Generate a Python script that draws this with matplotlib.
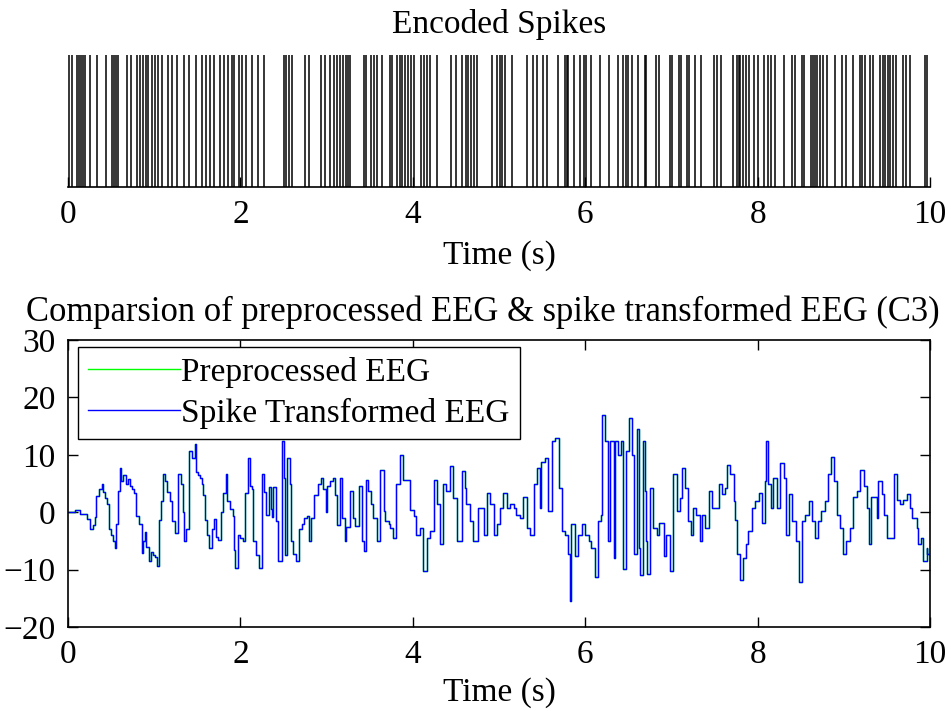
import matplotlib
matplotlib.use("Agg")
import matplotlib.pyplot as plt

plt.rcParams['font.family'] = ['Liberation Serif', 'DejaVu Serif']
plt.rcParams['font.size'] = 24

# spike times of the encoded train (s)
spike_times = [
    0.01, 0.05, 0.10, 0.13, 0.15, 0.17, 0.20, 0.26, 0.34, 0.44, 0.51, 0.53,
    0.56, 0.58, 0.69, 0.73, 0.80, 0.84, 0.87, 0.90, 0.93, 0.98, 1.01, 1.04,
    1.09, 1.16, 1.21, 1.26, 1.35, 1.40, 1.48, 1.55, 1.60, 1.65, 1.69, 1.76,
    1.81, 1.86, 1.90, 1.93, 1.98, 2.02, 2.07, 2.13, 2.20, 2.27, 2.51, 2.53,
    2.56, 2.60, 2.75, 2.79, 2.93, 2.98, 3.04, 3.09, 3.12, 3.16, 3.19, 3.23,
    3.25, 3.27, 3.43, 3.46, 3.52, 3.55, 3.58, 3.64, 3.73, 3.76, 3.82, 3.85,
    3.87, 3.91, 3.94, 3.98, 4.01, 4.09, 4.13, 4.16, 4.20, 4.28, 4.44, 4.50,
    4.57, 4.62, 4.64, 4.68, 4.71, 4.74, 4.92, 4.98, 5.01, 5.03, 5.07, 5.15,
    5.33, 5.39, 5.44, 5.51, 5.56, 5.68, 5.76, 5.79, 5.80, 5.87, 5.94, 5.99,
    6.01, 6.07, 6.17, 6.27, 6.38, 6.44, 6.47, 6.50, 6.54, 6.61, 6.69, 6.71,
    6.82, 6.85, 6.98, 7.01, 7.09, 7.11, 7.18, 7.20, 7.27, 7.34, 7.49, 7.53,
    7.58, 7.71, 7.76, 7.78, 7.80, 7.83, 7.87, 7.90, 7.96, 8.00, 8.07, 8.12,
    8.16, 8.20, 8.30, 8.40, 8.43, 8.51, 8.54, 8.62, 8.64, 8.67, 8.69, 8.72,
    8.76, 8.80, 8.90, 8.98, 9.03, 9.11, 9.19, 9.21, 9.25, 9.30, 9.34, 9.42,
    9.45, 9.48, 9.51, 9.54, 9.57, 9.61, 9.69, 9.72, 9.77, 9.94, 9.96,
]

# C3 channel, step change times (s) and amplitudes
eeg_t = [
    0.00, 0.08, 0.14, 0.22, 0.26, 0.29, 0.31, 0.33, 0.36, 0.39, 0.41, 0.43,
    0.45, 0.47, 0.50, 0.52, 0.545, 0.56, 0.58, 0.60, 0.62, 0.64, 0.67, 0.70,
    0.72, 0.74, 0.76, 0.79, 0.82, 0.855, 0.87, 0.89, 0.91, 0.94, 0.96, 0.99,
    1.01, 1.03, 1.06, 1.08, 1.10, 1.12, 1.15, 1.18, 1.21, 1.24, 1.28, 1.31,
    1.33, 1.35, 1.37, 1.40, 1.44, 1.47, 1.49, 1.51, 1.53, 1.55, 1.57, 1.59,
    1.61, 1.64, 1.67, 1.69, 1.72, 1.74, 1.77, 1.80, 1.83, 1.85, 1.88, 1.91,
    1.93, 1.94, 1.97, 2.00, 2.03, 2.05, 2.09, 2.11, 2.13, 2.15, 2.18, 2.21,
    2.25, 2.27, 2.30, 2.33, 2.35, 2.37, 2.38, 2.41, 2.44, 2.48, 2.50, 2.52,
    2.54, 2.57, 2.59, 2.61, 2.65, 2.68, 2.71, 2.74, 2.77, 2.79, 2.82, 2.85,
    2.90, 2.93, 2.96, 2.99, 3.01, 3.04, 3.07, 3.10, 3.12, 3.15, 3.18, 3.21,
    3.23, 3.27, 3.31, 3.33, 3.37, 3.41, 3.43, 3.46, 3.48, 3.52, 3.54, 3.58,
    3.62, 3.66, 3.68, 3.72, 3.74, 3.77, 3.81, 3.85, 3.89, 3.93, 3.97, 4.01,
    4.04, 4.08, 4.12, 4.17, 4.20, 4.24, 4.28, 4.32, 4.35, 4.39, 4.43, 4.47,
    4.51, 4.57, 4.61, 4.62, 4.66, 4.70, 4.76, 4.80, 4.82, 4.86, 4.90, 4.94,
    4.98, 5.01, 5.05, 5.09, 5.13, 5.17, 5.20, 5.24, 5.28, 5.32, 5.36, 5.40,
    5.44, 5.48, 5.49, 5.53, 5.57, 5.61, 5.65, 5.69, 5.73, 5.76, 5.80, 5.82,
    5.84, 5.88, 5.92, 5.96, 6.00, 6.04, 6.07, 6.11, 6.15, 6.18, 6.20, 6.23,
    6.26, 6.29, 6.33, 6.35, 6.38, 6.41, 6.44, 6.47, 6.51, 6.54, 6.56, 6.60,
    6.62, 6.64, 6.67, 6.69, 6.71, 6.72, 6.75, 6.79, 6.83, 6.85, 6.89, 6.91,
    6.94, 6.98, 7.02, 7.06, 7.10, 7.12, 7.16, 7.19, 7.23, 7.25, 7.29, 7.33,
    7.35, 7.39, 7.43, 7.47, 7.50, 7.55, 7.59, 7.62, 7.65, 7.68, 7.72, 7.74,
    7.76, 7.80, 7.83, 7.87, 7.89, 7.93, 7.97, 8.01, 8.05, 8.08, 8.10, 8.12,
    8.16, 8.18, 8.22, 8.26, 8.30, 8.33, 8.36, 8.40, 8.44, 8.48, 8.51, 8.55,
    8.59, 8.63, 8.67, 8.70, 8.74, 8.78, 8.82, 8.85, 8.88, 8.92, 8.96, 8.99,
    9.03, 9.07, 9.11, 9.15, 9.19, 9.23, 9.27, 9.29, 9.31, 9.34, 9.38, 9.40,
    9.44, 9.46, 9.50, 9.54, 9.58, 9.62, 9.65, 9.69, 9.73, 9.77, 9.79, 9.83,
    9.85, 9.86, 9.90, 9.92, 9.96, 9.97, 10.00,
]
eeg_v = [
    0.0, 0.4, -0.3, -1.2, -3.0, -2.2, -0.8, 2.8, 4.0, 4.9, 3.5, 2.5,
    1.4, -3.0, -4.0, -5.0, -6.2, -2.0, 3.7, 7.7, 5.5, 6.5, 5.0, 5.8,
    4.5, 4.0, 3.3, -0.6, -2.0, -7.1, -5.0, -3.5, -6.0, -8.5, -7.0, -7.5,
    -7.8, -9.4, -1.4, 2.0, 6.6, 5.5, 3.5, 2.0, -1.5, -3.7, 6.6, 5.0,
    0.0, -5.1, -3.0, 10.6, 9.5, 11.8, 7.0, 6.5, 6.0, 5.0, 3.0, -1.4,
    -4.0, -6.2, -3.0, -1.2, -4.3, -4.8, 0.0, 3.4, 6.6, 2.0, 0.5, -0.6,
    -6.5, -9.8, -4.0, -4.5, -5.0, 3.4, 9.5, 4.5, 4.0, -5.0, -7.5, -9.7,
    6.6, 3.5, -0.5, 4.4, 0.5, -0.8, 4.4, -1.5, -8.5, 12.4, 6.0, -7.5,
    9.5, 5.0, -5.0, -7.3, -8.5, -3.0, -2.0, -1.0, -0.6, -5.0, -1.0, 3.0,
    4.9, 6.0, 4.0, 0.0, 4.5, 5.5, 6.0, 3.0, -2.3, 6.0, -1.0, -5.0,
    -2.5, 3.7, -1.0, -2.4, 4.6, -5.0, -6.8, 5.6, 3.7, 1.4, -1.0, -5.0,
    7.4, 0.2, -1.5, -2.1, -2.7, -4.5, 4.9, 10.0, 5.6, 5.6, 0.3, -0.6,
    -3.9, -2.7, -10.3, -4.5, -3.3, 5.6, 1.5, -5.6, 4.9, 3.7, 8.0, 2.5,
    -5.0, 7.1, 4.2, 1.4, -1.5, -5.0, 0.8, 0.8, -3.9, 3.4, 1.4, -3.9,
    -2.1, 0.8, 3.4, 0.8, 1.4, 0.8, -0.4, -1.0, 2.6, -2.7, -3.9, 4.9,
    7.7, 0.8, 8.8, 9.5, 0.2, 12.4, 13.0, 4.2, -3.3, -3.9, -7.3, -15.5,
    -2.1, -7.6, -3.9, -2.1, -3.9, -5.0, -6.2, -11.2, -1.5, -0.4, 17.0, 12.4,
    -5.0, 12.4, -8.0, 12.4, 10.0, 12.4, -9.9, 10.6, 16.4, 10.0, -7.3, 14.5,
    -6.2, -10.9, 12.4, 3.7, -5.0, -10.7, 4.2, -2.7, -3.9, -1.8, -1.8, -7.6,
    -3.9, -10.3, 6.6, 0.2, 2.5, 7.7, 4.2, -1.6, -3.9, 0.8, -0.4, -5.0,
    -0.4, -2.7, 3.7, 0.8, 0.8, 4.9, 3.2, 4.2, 8.2, 6.6, 1.9, -1.3,
    -7.3, -11.8, -7.9, -5.6, -3.3, 0.8, 1.9, 3.4, -1.8, 5.4, 12.4, 4.9,
    0.8, 6.0, 0.8, 8.5, 6.0, -3.9, 3.2, -1.5, -5.0, -12.1, -1.5, -0.4,
    1.9, -1.5, -4.5, -1.5, 0.2, 1.9, 6.6, 9.7, 5.4, -0.4, -2.7, -7.3,
    -5.0, -2.7, 2.6, 3.7, 7.3, 4.5, 0.8, -5.6, 2.6, 2.6, -1.0, 5.4,
    3.2, -0.4, -4.5, -4.5, 6.6, 2.1, 1.4, 2.1, 3.2, 0.8, -1.0, -1.0,
    -2.7, -5.6, -4.5, -8.5, -6.2, -7.3, -7.3,
]

fig = plt.figure(figsize=(9.51, 7.11), dpi=100)

# --- encoded spike train ---
ax1 = fig.add_axes([0.0715, 0.737, 0.9065, 0.1857])
ax1.vlines(spike_times, 0, 1, color='black', linewidth=1.1)
ax1.set_xlim(0, 10)
ax1.set_ylim(0, 1)
ax1.set_yticks([])
for side in ['top', 'left', 'right']:
    ax1.spines[side].set_visible(False)
ax1.spines['bottom'].set_linewidth(1.2)
ax1.set_xticks([0, 2, 4, 6, 8, 10])
ax1.tick_params(axis='x', direction='in', length=7, width=1, pad=9)
ax1.set_title('Encoded Spikes', pad=16, fontsize=24)
ax1.set_xlabel('Time (s)', labelpad=7)

# --- preprocessed vs spike transformed EEG ---
ax2 = fig.add_axes([0.0715, 0.1181, 0.9065, 0.4037])
ax2.plot(eeg_t, eeg_v, drawstyle='steps-post', color='#00ff00', linewidth=1.0,
         label='Preprocessed EEG')
ax2.plot(eeg_t, eeg_v, drawstyle='steps-post', color='#0000ff', linewidth=1.0,
         label='Spike Transformed EEG')
ax2.set_xlim(0, 10)
ax2.set_ylim(-20, 30)
ax2.set_xticks([0, 2, 4, 6, 8, 10])
ax2.set_yticks([-20, -10, 0, 10, 20, 30])
ax2.tick_params(direction='in', length=7, width=1, top=True, right=True, pad=9)
for sp in ax2.spines.values():
    sp.set_linewidth(1.2)
ax2.set_title('Comparsion of preprocessed EEG & spike transformed EEG (C3)',
              pad=14, fontsize=24.9, x=0.481)
ax2.set_xlabel('Time (s)', labelpad=5)

leg = ax2.legend(loc='upper left', bbox_to_anchor=(0.0116, 0.976),
                 borderaxespad=0, fancybox=False, framealpha=1,
                 edgecolor='black', handlelength=2.75, handletextpad=0.05,
                 borderpad=0.3, labelspacing=0.3, fontsize=24)
leg.get_frame().set_linewidth(1.0)

fig.savefig('out.png', dpi=100)
